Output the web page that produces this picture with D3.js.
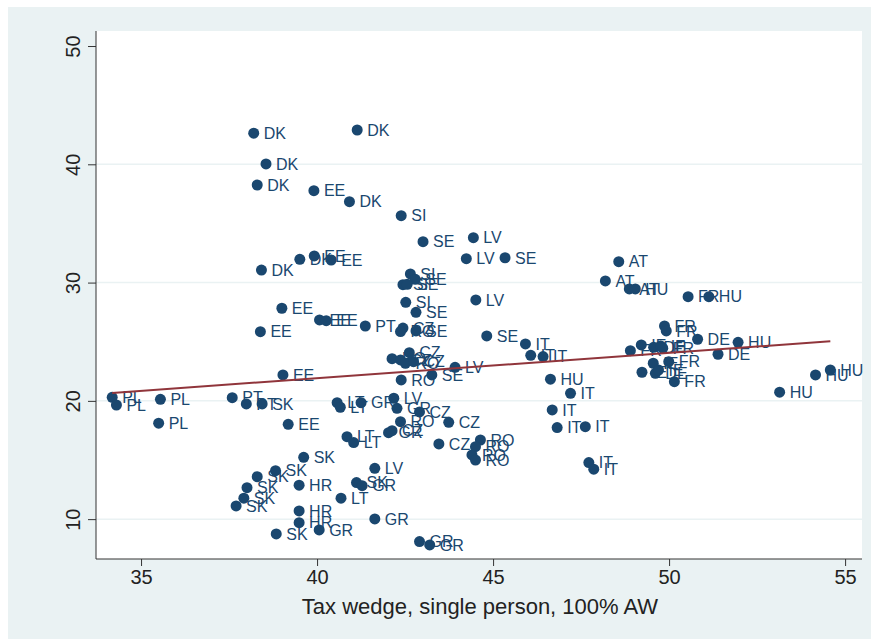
<!DOCTYPE html>
<html>
<head>
<meta charset="utf-8">
<script src="https://cdn.jsdelivr.net/npm/d3@7/dist/d3.min.js"></script>
<style>
  html, body { margin: 0; padding: 0; background: #ffffff; }
  svg { display: block; }
  text { font-family: "Liberation Sans", Arial, Helvetica, sans-serif; }
</style>
</head>
<body>
<svg id="chart" width="871" height="639"></svg>
<script>
// Country-year observations
const countries = [
  "DK","DK","DK","DK","EE","DK","SI","SE","LV","LV","SE","AT","AT","AT","HU","FR","HU",
  "DK","DK","EE","EE","SI","SE","SI","SE","SI","SE","LV","EE","EE","EE","EE","PT",
  "CZ","RO","SE","SE","IT","IT","IT",
  "CZ","RO","CZ","RO","CZ","LV","SE","RO","HU","EE",
  "PL","PL","PL","PL","PT","PT","SK","EE","LT","LT","GR","LV","GR","CZ","RO","CZ",
  "IT","IT","IT","IT","LT","LT","GR","CZ","CZ","RO","RO","RO","RO","IT","IT",
  "SK","SK","SK","SK","SK","SK","SK","HR","HR","HR","GR","LT","LV","SK","GR","GR","GR","GR",
  "FR","FR","DE","HU","DE","FR","IE","DE","IE","FR","IE","FR","IE","DE","IE","FR",
  "HU","HU","HU"
];
const taxWedge = [
  38.20,41.14,38.55,38.30,39.91,40.92,42.39,43.01,44.44,44.24,45.34,48.57,48.19,48.87,49.04,50.54,51.13,
  38.42,39.51,39.92,40.40,42.65,42.79,42.44,42.56,42.52,42.81,44.51,39.00,38.39,40.07,40.26,41.37,
  42.44,42.37,42.81,44.82,45.92,46.07,46.42,
  42.62,42.13,42.37,42.51,42.74,43.92,43.26,42.39,46.63,39.03,
  34.18,34.30,35.55,35.50,37.59,37.99,38.44,39.18,40.57,40.66,41.25,42.18,42.27,42.91,42.37,43.74,
  47.20,46.68,46.82,47.62,40.85,41.04,42.03,42.13,43.46,44.64,44.50,44.40,44.50,47.72,47.86,
  39.62,38.82,38.30,38.01,37.92,37.70,38.84,39.49,39.49,39.49,40.06,40.68,41.64,41.12,41.28,41.64,42.91,43.20,
  49.87,49.92,50.81,51.96,51.39,48.90,49.21,49.56,49.76,49.82,49.55,49.99,49.23,49.61,49.70,50.15,
  53.14,54.16,54.58
];
const yValues = [
  42.63,42.90,40.03,38.25,37.77,36.84,35.66,33.46,33.80,32.02,32.10,31.77,30.14,29.46,29.46,28.81,28.81,
  31.06,31.97,32.25,31.91,30.73,30.28,29.82,29.86,28.33,27.49,28.53,27.83,25.85,26.84,26.78,26.33,
  26.15,25.86,25.91,25.49,24.81,23.85,23.74,
  24.07,23.57,23.46,23.18,23.31,22.84,22.19,21.77,21.83,22.19,
  20.30,19.65,20.13,18.11,20.27,19.74,19.74,18.02,19.85,19.46,19.85,20.22,19.37,19.06,18.24,18.19,
  20.64,19.23,17.74,17.82,16.97,16.47,17.31,17.48,16.36,16.69,16.13,15.43,15.00,14.78,14.22,
  15.23,14.10,13.59,12.66,11.77,11.12,8.75,12.87,10.69,9.70,9.09,11.77,14.30,13.09,12.83,10.02,8.10,7.82,
  26.33,25.91,25.21,24.95,23.94,24.24,24.73,24.53,24.64,24.45,23.18,23.31,22.42,22.33,22.61,21.62,
  20.73,22.19,22.61
];
const xTicks = [35, 40, 45, 50, 55];
const yTicks = [10, 20, 30, 40, 50];
const yGridTicks = [10, 20, 30, 40];
const xTitle = "Tax wedge, single person, 100% AW";

const W = 871, H = 639;
const plot = { left: 96, right: 862, top: 31, bottom: 559 };

const svg = d3.select("#chart");

// outer graph region
svg.append("rect").attr("x", 8).attr("y", 7).attr("width", W - 8).attr("height", H - 7)
  .attr("fill", "#eaf2f3");
// plot region
svg.append("rect").attr("x", plot.left).attr("y", plot.top)
  .attr("width", plot.right - plot.left).attr("height", plot.bottom - plot.top)
  .attr("fill", "#ffffff");

const x = d3.scaleLinear().domain([33.72, 55.48]).range([plot.left, plot.right]);
const y = d3.scaleLinear().domain([6.63, 51.27]).range([plot.bottom, plot.top]);

// horizontal grid lines
svg.append("g").selectAll("line").data(yGridTicks).join("line")
  .attr("x1", plot.left).attr("x2", plot.right)
  .attr("y1", d => y(d)).attr("y2", d => y(d))
  .attr("stroke", "#eaf2f3").attr("stroke-width", 1.5);

// axes
const yAxis = svg.append("g").attr("transform", `translate(${plot.left},0)`)
  .call(d3.axisLeft(y).tickValues(yTicks).tickSize(8).tickPadding(0).tickFormat(d3.format("d")));
yAxis.select(".domain").attr("stroke", "#333").attr("d", `M0,${plot.top}V${plot.bottom}`);
yAxis.selectAll(".tick line").attr("stroke", "#333");
yAxis.selectAll(".tick text")
  .attr("transform", "rotate(-90)")
  .attr("x", 0).attr("y", -16)
  .attr("dy", "0em")
  .attr("text-anchor", "middle")
  .attr("font-size", 20).attr("fill", "#222");

const xAxis = svg.append("g").attr("transform", `translate(0,${plot.bottom})`)
  .call(d3.axisBottom(x).tickValues(xTicks).tickSize(7).tickPadding(5).tickFormat(d3.format("d")));
xAxis.select(".domain").attr("stroke", "#333").attr("d", `M${plot.left},0H${plot.right}`);
xAxis.selectAll(".tick line").attr("stroke", "#333");
xAxis.selectAll(".tick text").attr("font-size", 20).attr("fill", "#222")
  .attr("y", 18).attr("dy", "0.35em");

svg.append("text").attr("x", 480).attr("y", 614)
  .attr("text-anchor", "middle").attr("font-size", 22).attr("fill", "#222")
  .text(xTitle);

// linear fit (least squares) across the observed x range
const pts = taxWedge.map((v, i) => ({ c: countries[i], x: v, y: yValues[i] }));
const mx = d3.mean(pts, d => d.x), my = d3.mean(pts, d => d.y);
const sxy = d3.sum(pts, d => (d.x - mx) * (d.y - my));
const sxx = d3.sum(pts, d => (d.x - mx) ** 2);
const slope = sxy / sxx, intercept = my - slope * mx;
const [xmin, xmax] = d3.extent(pts, d => d.x);

// markers
const g = svg.append("g");
g.selectAll("circle").data(pts).join("circle")
  .attr("cx", d => x(d.x)).attr("cy", d => y(d.y)).attr("r", 5.5)
  .attr("fill", "#1a476f");
// marker labels
g.selectAll("text").data(pts).join("text")
  .attr("x", d => x(d.x) + 10).attr("y", d => y(d.y))
  .attr("dy", "0.36em").attr("font-size", 16).attr("fill", "#1a476f")
  .text(d => d.c);

svg.append("line")
  .attr("x1", x(xmin)).attr("y1", y(intercept + slope * xmin))
  .attr("x2", x(xmax)).attr("y2", y(intercept + slope * xmax))
  .attr("stroke", "#90353b").attr("stroke-width", 2);
</script>
</body>
</html>
